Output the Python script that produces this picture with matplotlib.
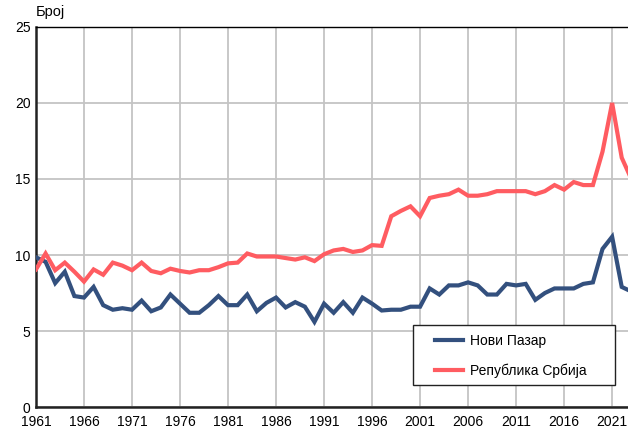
import numpy as np
import matplotlib
matplotlib.use("Agg")
import matplotlib.pyplot as plt
from matplotlib.patches import Rectangle

plt.rcParams['font.family'] = ['Liberation Sans', 'DejaVu Sans']

# Стопа морталитета (број умрлих на 1000 становника)
years = list(range(1961, 2024))

novi_pazar = [
    9.85, 9.55, 8.15, 8.9, 7.3, 7.2, 7.9, 6.7, 6.4, 6.5,
    6.4, 7.0, 6.3, 6.55, 7.4, 6.8, 6.2, 6.2, 6.7, 7.3,
    6.7, 6.7, 7.4, 6.3, 6.85, 7.2, 6.55, 6.9, 6.6, 5.6,
    6.8, 6.2, 6.9, 6.2, 7.2, 6.8, 6.35, 6.4, 6.4, 6.6,
    6.6, 7.8, 7.4, 8.0, 8.0, 8.2, 8.0, 7.4, 7.4, 8.1,
    8.0, 8.1, 7.05, 7.5, 7.8, 7.8, 7.8, 8.1, 8.2, 10.4,
    11.2, 7.9, 7.6,
]

srbija = [
    9.05, 10.1, 9.0, 9.5, 8.9, 8.25, 9.05, 8.7, 9.5, 9.3,
    9.0, 9.5, 8.95, 8.8, 9.1, 8.95, 8.85, 9.0, 9.0, 9.2,
    9.45, 9.5, 10.1, 9.9, 9.9, 9.9, 9.8, 9.7, 9.85, 9.6,
    10.05, 10.3, 10.4, 10.2, 10.3, 10.65, 10.6, 12.55, 12.9, 13.2,
    12.55, 13.75, 13.9, 14.0, 14.3, 13.9, 13.9, 14.0, 14.2, 14.2,
    14.2, 14.2, 14.0, 14.2, 14.6, 14.3, 14.8, 14.6, 14.6, 16.8,
    20.0, 16.4, 15.0,
]

series_names = ['Нови Пазар', 'Република Србија']
colors = ['#33507e', '#ff5c61']

x_ticks = list(range(1961, 2022, 5))
y_ticks = [0, 5, 10, 15, 20, 25]

fig = plt.figure(figsize=(6.28, 4.28), dpi=100)
ax = fig.add_axes([0.0573, 0.049, 0.948, 0.888])

ax.plot(years, novi_pazar, color=colors[0], lw=3, label=series_names[0],
        solid_joinstyle='miter', zorder=3)
ax.plot(years, srbija, color=colors[1], lw=3, label=series_names[1],
        solid_joinstyle='miter', zorder=3)

ax.set_xlim(1961, 2023)
ax.set_ylim(0, 25)
ax.set_xticks(x_ticks)
ax.set_yticks(y_ticks)
ax.tick_params(length=0, labelsize=10, pad=4)
ax.tick_params(axis='x', pad=6)
ax.grid(True, color='#c4c4c4', lw=1.3)
ax.set_axisbelow(True)

for side in ['left', 'bottom']:
    ax.spines[side].set_linewidth(1.8)
    ax.spines[side].set_color('#222222')
ax.spines['top'].set_linewidth(1.0)
ax.spines['right'].set_visible(False)

fig.text(0.0573, 0.955, 'Број', fontsize=10.5, ha='left', va='bottom')
# title is mostly outside the picture in the original, only the bottom edge shows
fig.text(0.0, 1 + 3 / 428, 'Број умрлих на 1000 становника, 1961–2023',
         fontsize=11, fontweight='bold', ha='left', va='baseline')

# legend with a hand-sized frame (wider than the default)
ax.add_patch(Rectangle((0.634, 0.058), 0.339, 0.158, transform=ax.transAxes,
                       facecolor='white', edgecolor='#222222', lw=1.0, zorder=4))
leg = ax.legend(loc='center', bbox_to_anchor=(0.797, 0.134), fontsize=10,
                frameon=False, handlelength=2.0, handletextpad=0.5,
                labelspacing=1.1, borderaxespad=0)
leg.set_zorder(5)

fig.savefig('out.png', dpi=100)
